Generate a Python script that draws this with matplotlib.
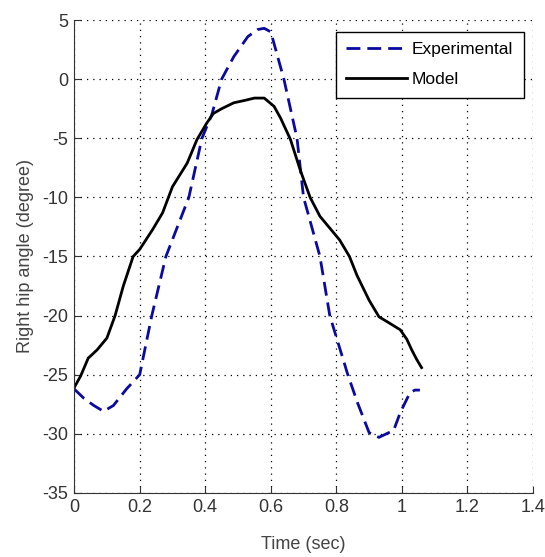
import matplotlib
matplotlib.use("Agg")
import matplotlib.pyplot as plt

exp_t = [0.0, 0.03, 0.06, 0.09, 0.12, 0.16, 0.2, 0.237, 0.28, 0.35, 0.39, 0.42, 0.45, 0.487, 0.53, 0.56, 0.58, 0.60, 0.64, 0.68, 0.70, 0.75, 0.78, 0.835, 0.865, 0.90, 0.93, 0.975, 0.995, 1.025, 1.04, 1.055]
exp_y = [-26.2, -27.0, -27.6, -28.1, -27.6, -26.2, -25.0, -20.0, -15.0, -10.0, -5.0, -3.0, 0.0, 1.9, 3.6, 4.2, 4.3, 4.0, 0.0, -5.0, -10.0, -15.0, -20.0, -25.0, -27.4, -29.9, -30.3, -29.7, -28.2, -26.5, -26.3, -26.3]

mod_t = [0.0, 0.02, 0.043, 0.07, 0.1, 0.125, 0.15, 0.18, 0.2, 0.24, 0.27, 0.30, 0.345, 0.375, 0.405, 0.425, 0.45, 0.487, 0.52, 0.55, 0.58, 0.61, 0.63, 0.66, 0.69, 0.72, 0.75, 0.78, 0.81, 0.84, 0.863, 0.90, 0.93, 0.96, 0.995, 1.015, 1.03, 1.045, 1.06]
mod_y = [-26.1, -25.1, -23.6, -22.9, -21.9, -20.0, -17.5, -15.0, -14.4, -12.7, -11.3, -9.1, -7.1, -5.1, -3.7, -2.9, -2.5, -2.0, -1.8, -1.6, -1.6, -2.3, -3.3, -5.1, -7.7, -10.0, -11.6, -12.6, -13.6, -15.0, -16.6, -18.7, -20.1, -20.6, -21.2, -22.0, -22.9, -23.7, -24.4]

xticks = [0, 0.2, 0.4, 0.6, 0.8, 1, 1.2, 1.4]
xtick_labels = ["0", "0.2", "0.4", "0.6", "0.8", "1", "1.2", "1.4"]
yticks = [-35, -30, -25, -20, -15, -10, -5, 0, 5]

plt.rcParams['font.family'] = ['Liberation Sans', 'DejaVu Sans']
plt.rcParams['axes.unicode_minus'] = False

fig = plt.figure(figsize=(5.45, 5.57), dpi=100)
ax = fig.add_axes([0.136, 0.115, 0.842, 0.849])

ax.plot(exp_t, exp_y, color='#0a0aa0', linestyle=(0, (5, 2.5)), linewidth=2, label='Experimental')
ax.plot(mod_t, mod_y, color='black', linewidth=2, label='Model')

ax.set_xlim(0, 1.4)
ax.set_ylim(-35, 5)
ax.set_xticks(xticks)
ax.set_xticklabels(xtick_labels)
ax.set_yticks(yticks)
ax.tick_params(direction='in', labelsize=13, length=5, colors='#333333', labelcolor='#333333', pad=4)
for s in ['top', 'right']:
    ax.spines[s].set_visible(False)
for s in ['left', 'bottom']:
    ax.spines[s].set_color('#333333')
ax.grid(True, linestyle=(0, (1, 4)), color='black', linewidth=0.9)

ax.set_xlabel('Time (sec)', fontsize=13, color='#444444', labelpad=15)
ax.set_ylabel('Right hip angle (degree)', fontsize=13, color='#444444', labelpad=6)

leg = ax.legend(loc='upper right', bbox_to_anchor=(0.98, 0.975), fontsize=12.5, frameon=True, fancybox=False,
                handlelength=3.5, handletextpad=0.3, borderpad=0.6, labelspacing=0.85, borderaxespad=0)
leg.get_frame().set_edgecolor('black')
leg.get_frame().set_linewidth(1.0)
leg.get_frame().set_alpha(1)

fig.savefig('out.png', dpi=100)
